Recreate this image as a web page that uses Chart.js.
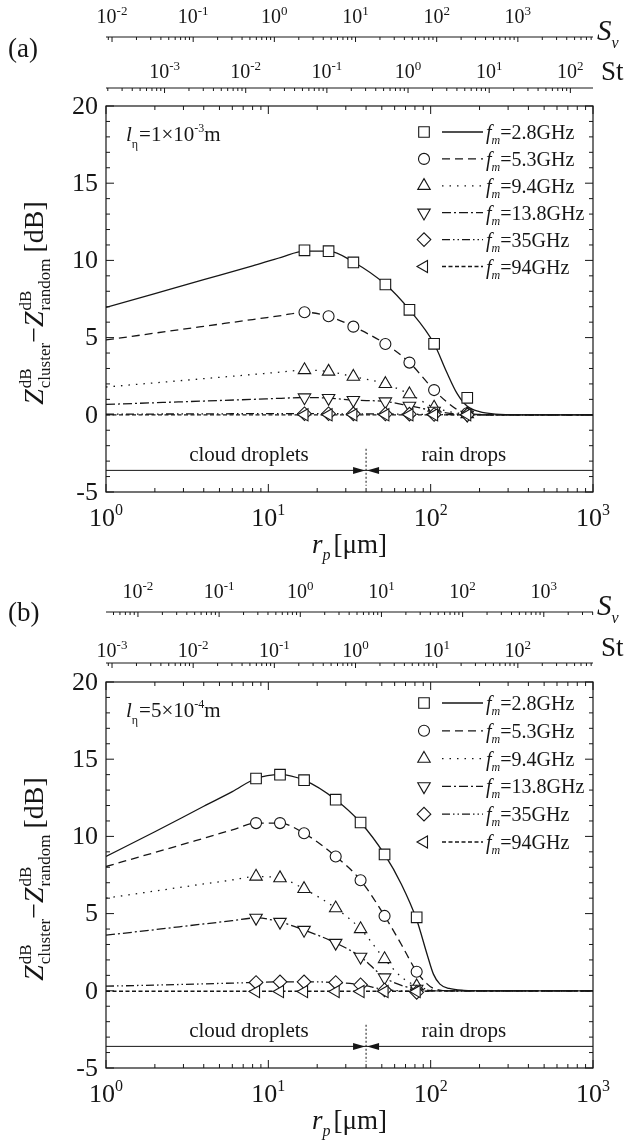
<!DOCTYPE html>
<html>
<head>
<meta charset="utf-8">
<title>Z cluster - Z random</title>
<script src="https://cdn.jsdelivr.net/npm/chart.js@4.4.1/dist/chart.umd.min.js"></script>
<style>
  html, body { margin: 0; padding: 0; background: #fff; }
  canvas { display: block; }
</style>
</head>
<body>
<canvas id="chartA" width="632" height="576"></canvas>
<canvas id="chartB" width="632" height="565"></canvas>
<script>
// legend frequencies
const freqLabels = ["2.8GHz", "5.3GHz", "9.4GHz", "13.8GHz", "35GHz", "94GHz"];

// ---- panel (a): l_eta = 1e-3 m ----
const rpLineA = [1, 2, 4, 8, 12, 16.7, 23.5, 33.4, 52.6, 74, 105, 125, 145, 168, 200, 250, 350, 1000];
const lineA_2p8 = [6.95, 7.85, 8.75, 9.65, 10.2, 10.6, 10.6, 9.9, 8.45, 6.8, 4.6, 2.8, 1.4, 0.55, 0.2, 0.05, 0, 0];
const lineA_5p3 = [4.85, 5.29, 5.73, 6.17, 6.43, 6.64, 6.38, 5.71, 4.59, 3.38, 1.6, 0.85, 0.35, 0.1, 0.02, 0, 0, 0];
const lineA_9p4 = [1.8, 2.07, 2.34, 2.61, 2.77, 2.9, 2.8, 2.47, 2.0, 1.34, 0.47, 0.25, 0.12, 0.05, 0.01, 0, 0, 0];
const lineA_13p8 = [0.67, 0.78, 0.89, 1.0, 1.07, 1.12, 1.08, 0.95, 0.86, 0.58, 0.26, 0.12, 0.05, 0.01, 0, 0, 0, 0];
const lineA_35 = [0.05, 0.05, 0.06, 0.07, 0.07, 0.07, 0.07, 0.06, 0.05, 0.04, 0.02, 0.01, 0, 0, 0, 0, 0, 0];
const lineA_94 = [0, 0, 0, 0, 0, 0, 0, 0, 0, 0, 0, 0, 0, 0, 0, 0, 0, 0];

const rpMarkA = [16.7, 23.5, 33.4, 52.6, 74, 105, 168];
const markA_2p8 = [10.65, 10.6, 9.87, 8.44, 6.8, 4.6, 1.1];
const markA_5p3 = [6.64, 6.38, 5.71, 4.59, 3.38, 1.6, 0.1];
const markA_9p4 = [2.9, 2.8, 2.47, 2.0, 1.34, 0.47, 0.05];
const markA_13p8 = [1.12, 1.08, 0.95, 0.86, 0.58, 0.26, 0.0];
const markA_35 = [0.07, 0.07, 0.06, 0.05, 0.04, 0.02, 0.0];
const markA_94 = [0, 0, 0, 0, 0, 0, 0];

// ---- panel (b): l_eta = 5e-4 m ----
const rpLineB = [1, 2, 4, 6, 8.4, 11.8, 16.6, 26, 37, 52, 66, 82, 95, 104, 114, 130, 160, 220, 1000];
const lineB_2p8 = [8.7, 10.3, 11.95, 12.9, 13.75, 14.0, 13.64, 12.38, 10.9, 8.83, 6.9, 4.6, 2.37, 1.08, 0.43, 0.15, 0.03, 0, 0];
const lineB_5p3 = [8.05, 8.96, 9.88, 10.42, 10.86, 10.86, 10.2, 8.7, 7.16, 4.85, 3.0, 1.23, 0.45, 0.15, 0.05, 0, 0, 0, 0];
const lineB_9p4 = [6.0, 6.46, 6.92, 7.18, 7.4, 7.3, 6.6, 5.35, 4.0, 2.06, 0.9, 0.3, 0.1, 0.03, 0, 0, 0, 0, 0];
const lineB_13p8 = [3.6, 3.96, 4.33, 4.54, 4.72, 4.46, 3.94, 3.1, 2.2, 0.86, 0.35, 0.13, 0.04, 0, 0, 0, 0, 0, 0];
const lineB_35 = [0.3, 0.37, 0.45, 0.5, 0.54, 0.58, 0.58, 0.54, 0.39, 0.08, 0.0, -0.05, -0.03, 0, 0, 0, 0, 0, 0];
const lineB_94 = [-0.03, -0.03, -0.03, -0.03, -0.03, -0.03, -0.03, -0.03, -0.03, -0.03, -0.03, -0.03, -0.02, 0, 0, 0, 0, 0, 0];

const rpMarkB = [8.4, 11.8, 16.6, 26, 37, 52, 82];
const markB_2p8 = [13.75, 14.0, 13.64, 12.38, 10.9, 8.83, 4.76];
const markB_5p3 = [10.86, 10.86, 10.2, 8.7, 7.16, 4.85, 1.23];
const markB_9p4 = [7.4, 7.3, 6.6, 5.35, 4.0, 2.06, 0.3];
const markB_13p8 = [4.72, 4.46, 3.94, 3.1, 2.2, 0.86, 0.13];
const markB_35 = [0.54, 0.58, 0.58, 0.54, 0.39, 0.05, -0.1];
const markB_94 = [-0.05, -0.05, -0.05, -0.05, -0.05, -0.05, -0.05];

// axis ranges and tick labels
const rpRange = [1, 1000];
const zRange = [-5, 20];
const zLabels = [-5, 0, 5, 10, 15, 20];
const svRangeA = [0.00843, 8430];
const stRangeA = [0.00019, 190];
const svRangeB = [0.00404, 4040];
const stRangeB = [0.000843, 843];

// droplet / raindrop boundary
const splitRadius = 40;
const arrowLevel = -3.6;
const dividerSpan = [-2.2, -4.6];
const cloudLabelAt = 7.6;
const rainLabelAt = 160;
const classLabelLevel = -3.0;

const FONT = '"Liberation Serif", "Times New Roman", serif';
const INK = '#161616';

const seriesStyle = [
  { dash: [], point: 'rect', rot: 0, r: 7.5 },
  { dash: [8, 5], point: 'circle', rot: 0, r: 5.5 },
  { dash: [1.5, 6], point: 'triangle', rot: 0, r: 7.2 },
  { dash: [9, 3, 2, 3], point: 'triangle', rot: 180, r: 7.2 },
  { dash: [8, 3, 1.5, 3, 1.5, 3], point: 'rectRot', rot: 0, r: 6.8 },
  { dash: [4, 2.5], point: 'triangle', rot: 270, r: 7 }
];

function font(size, italic) {
  return (italic ? 'italic ' : '') + size + 'px ' + FONT;
}

// text made of runs (italic, sub/superscripts, stacked sup+sub)
function runsWidth(ctx, runs) {
  let w = 0;
  for (const r of runs) {
    ctx.font = font(r.size, r.italic);
    if (r.stack) {
      w += Math.max(ctx.measureText(r.stack[0]).width, ctx.measureText(r.stack[1]).width);
    } else {
      w += ctx.measureText(r.t).width;
    }
    w += r.gap || 0;
  }
  return w;
}

function drawRuns(ctx, runs, x, y, align) {
  const w = runsWidth(ctx, runs);
  let cx = align === 'center' ? x - w / 2 : (align === 'right' ? x - w : x);
  ctx.textAlign = 'left';
  ctx.textBaseline = 'alphabetic';
  for (const r of runs) {
    ctx.font = font(r.size, r.italic);
    if (r.stack) {
      ctx.fillText(r.stack[0], cx, y + r.up);
      ctx.fillText(r.stack[1], cx, y + r.down);
      cx += Math.max(ctx.measureText(r.stack[0]).width, ctx.measureText(r.stack[1]).width);
    } else {
      ctx.fillText(r.t, cx, y + (r.dy || 0));
      cx += ctx.measureText(r.t).width;
    }
    cx += r.gap || 0;
  }
}

function pow10(e, size, supSize, rise) {
  return [{ t: '10', size: size }, { t: String(e), size: supSize, dy: -rise }];
}

function logTicks(min, max) {
  const out = [];
  for (let e = Math.floor(Math.log10(min)); e <= Math.ceil(Math.log10(max)); e++) {
    for (let m = 1; m < 10; m++) {
      const v = m * Math.pow(10, e);
      if (v >= min * 0.9999 && v <= max * 1.0001) out.push({ v: v, e: e, major: m === 1 });
    }
  }
  return out;
}

function seg(ctx, x1, y1, x2, y2) {
  ctx.beginPath();
  ctx.moveTo(x1, y1);
  ctx.lineTo(x2, y2);
  ctx.stroke();
}

function buildDatasets(rpLine, lines, rpMark, marks) {
  const ds = [];
  marks.forEach((vals, i) => {
    const s = seriesStyle[i];
    ds.push({
      data: rpMark.map((x, k) => ({ x: x, y: vals[k] })),
      showLine: false,
      pointStyle: s.point,
      pointRotation: s.rot,
      pointRadius: s.r,
      pointBorderColor: INK,
      pointBackgroundColor: '#fff',
      pointBorderWidth: 1.1,
      // later frequencies sit on top of earlier ones
      order: 1 + (5 - i) * 0.1
    });
  });
  lines.forEach((vals, i) => {
    ds.push({
      data: rpLine.map((x, k) => ({ x: x, y: vals[k] })),
      borderColor: INK,
      borderWidth: 1.3,
      borderDash: seriesStyle[i].dash,
      pointRadius: 0,
      cubicInterpolationMode: 'monotone',
      fill: false,
      order: 2
    });
  });
  return ds;
}

const frame = {
  id: 'frame',
  beforeDatasetsDraw(chart) {
    const { ctx, chartArea: a, scales: { x, y } } = chart;
    const yArrow = y.getPixelForValue(arrowLevel);
    const xs = x.getPixelForValue(splitRadius);
    ctx.save();
    ctx.strokeStyle = INK;
    ctx.fillStyle = INK;
    ctx.lineWidth = 1;
    seg(ctx, a.left, yArrow, a.right, yArrow);
    ctx.beginPath();
    ctx.moveTo(xs - 1, yArrow);
    ctx.lineTo(xs - 13, yArrow - 3.5);
    ctx.lineTo(xs - 13, yArrow + 3.5);
    ctx.closePath();
    ctx.fill();
    ctx.beginPath();
    ctx.moveTo(xs + 1, yArrow);
    ctx.lineTo(xs + 13, yArrow - 3.5);
    ctx.lineTo(xs + 13, yArrow + 3.5);
    ctx.closePath();
    ctx.fill();
    ctx.setLineDash([2, 2]);
    seg(ctx, xs, y.getPixelForValue(dividerSpan[0]), xs, y.getPixelForValue(dividerSpan[1]));
    ctx.setLineDash([]);
    ctx.font = font(21, false);
    ctx.textAlign = 'center';
    ctx.textBaseline = 'alphabetic';
    ctx.fillText('cloud droplets', x.getPixelForValue(cloudLabelAt), y.getPixelForValue(classLabelLevel));
    ctx.fillText('rain drops', x.getPixelForValue(rainLabelAt), y.getPixelForValue(classLabelLevel));
    ctx.restore();
  },
  afterDraw(chart, args, o) {
    const { ctx, chartArea: a, scales: { x, y, sv, st } } = chart;
    ctx.save();
    ctx.strokeStyle = INK;
    ctx.fillStyle = INK;
    ctx.lineWidth = 1.2;
    ctx.strokeRect(a.left, a.top, a.right - a.left, a.bottom - a.top);

    // r_p ticks, bottom and top, pointing in
    ctx.lineWidth = 1;
    for (const t of logTicks(rpRange[0], rpRange[1])) {
      const px = x.getPixelForValue(t.v);
      const len = t.major ? 8 : 4;
      seg(ctx, px, a.bottom, px, a.bottom - len);
      seg(ctx, px, a.top, px, a.top + len);
      if (t.major) drawRuns(ctx, pow10(t.e, 26, 16, 11), px, a.bottom + 34, 'center');
    }
    // Z ticks, left and right
    for (let v = zRange[0]; v <= zRange[1]; v++) {
      const py = y.getPixelForValue(v);
      const len = v % 5 === 0 ? 8 : 4;
      seg(ctx, a.left, py, a.left + len, py);
      seg(ctx, a.right, py, a.right - len, py);
    }
    ctx.font = font(26, false);
    ctx.textAlign = 'right';
    ctx.textBaseline = 'middle';
    for (const v of zLabels) ctx.fillText(String(v), a.left - 8, y.getPixelForValue(v) + 1);

    // S_v and St axes above the plot
    [[sv, o.svLine, o.svBase], [st, o.stLine, o.stBase]].forEach(([s, ly, lb]) => {
      seg(ctx, a.left, ly, a.right, ly);
      for (const t of logTicks(s.min, s.max)) {
        const px = s.getPixelForValue(t.v);
        seg(ctx, px, ly, px, ly + (t.major ? 5 : 3));
        if (t.major) drawRuns(ctx, pow10(t.e, 20, 13, 8), px, lb, 'center');
      }
    });
    drawRuns(ctx, [{ t: 'S', size: 29, italic: true }, { t: 'v', size: 16, italic: true, dy: 8 }], a.right + 4, o.svLine + 3, 'left');
    ctx.font = font(27, false);
    ctx.textAlign = 'left';
    ctx.textBaseline = 'alphabetic';
    ctx.fillText('St', a.right + 8, o.stTitle);

    // panel tag
    ctx.font = font(27, false);
    ctx.fillText(o.tag, 8, o.tagBase);

    // axis titles
    drawRuns(ctx, [{ t: 'r', size: 27, italic: true }, { t: 'p', size: 16, italic: true, dy: 7, gap: 3 }, { t: '[\u03bcm]', size: 27 }],
      (a.left + a.right) / 2, a.bottom + 61, 'center');
    ctx.save();
    ctx.translate(34, (a.top + a.bottom) / 2 + 4);
    ctx.rotate(-Math.PI / 2);
    drawRuns(ctx, [
      { t: 'Z', size: 28, italic: true, gap: 1 },
      { stack: ['dB', 'cluster'], size: 17, up: -12, down: 7 },
      { t: '\u2212', size: 28 },
      { t: 'Z', size: 28, italic: true, gap: 1 },
      { stack: ['dB', 'random'], size: 17, up: -12, down: 7, gap: 6 },
      { t: '[dB]', size: 28 }
    ], 0, 9, 'center');
    ctx.restore();

    // l_eta note
    drawRuns(ctx, [
      { t: 'l', size: 21, italic: true },
      { t: '\u03b7', size: 12, dy: 7, gap: 1 },
      { t: '=' + o.lMant + '\u00d710', size: 21 },
      { t: o.lExp, size: 12, dy: -9 },
      { t: 'm', size: 21 }
    ], a.left + 20, a.top + 35, 'left');

    // legend
    const draw = Chart.helpers && Chart.helpers.drawPoint;
    seriesStyle.forEach((s, i) => {
      const ry = o.legendTop + i * o.legendStep;
      ctx.lineWidth = 1.1;
      ctx.fillStyle = '#fff';
      if (draw) draw(ctx, { pointStyle: s.point, rotation: s.rot, radius: s.r, borderWidth: 1.1 }, 424, ry);
      ctx.fillStyle = INK;
      ctx.lineWidth = 1.3;
      ctx.setLineDash(s.dash);
      seg(ctx, 442, ry, 483, ry);
      ctx.setLineDash([]);
      drawRuns(ctx, [
        { t: 'f', size: 20, italic: true },
        { t: 'm', size: 12, italic: true, dy: 5 },
        { t: '=' + freqLabels[i], size: 20 }
      ], 486, ry + 7, 'left');
    });
    ctx.restore();
  }
};

function makePanel(id, datasets, svRange, stRange, padBottom, opts) {
  return new Chart(document.getElementById(id), {
    type: 'line',
    data: { datasets: datasets },
    options: {
      responsive: false,
      animation: false,
      devicePixelRatio: 1,
      events: [],
      layout: { padding: { left: 106, right: 39, top: 106, bottom: padBottom } },
      plugins: { legend: { display: false }, tooltip: { enabled: false }, frame: opts },
      scales: {
        x: { type: 'logarithmic', min: rpRange[0], max: rpRange[1], display: false },
        y: { type: 'linear', min: zRange[0], max: zRange[1], display: false },
        sv: { type: 'logarithmic', axis: 'x', position: 'top', min: svRange[0], max: svRange[1], display: false },
        st: { type: 'logarithmic', axis: 'x', position: 'top', min: stRange[0], max: stRange[1], display: false }
      }
    },
    plugins: [frame]
  });
}

makePanel('chartA',
  buildDatasets(rpLineA, [lineA_2p8, lineA_5p3, lineA_9p4, lineA_13p8, lineA_35, lineA_94],
    rpMarkA, [markA_2p8, markA_5p3, markA_9p4, markA_13p8, markA_35, markA_94]),
  svRangeA, stRangeA, 84,
  { tag: '(a)', tagBase: 57, lMant: '1', lExp: '-3', legendTop: 132, legendStep: 26.9,
    svLine: 37, svBase: 23, stLine: 88, stBase: 78, stTitle: 80 });

makePanel('chartB',
  buildDatasets(rpLineB, [lineB_2p8, lineB_5p3, lineB_9p4, lineB_13p8, lineB_35, lineB_94],
    rpMarkB, [markB_2p8, markB_5p3, markB_9p4, markB_13p8, markB_35, markB_94]),
  svRangeB, stRangeB, 73,
  { tag: '(b)', tagBase: 45, lMant: '5', lExp: '-4', legendTop: 127, legendStep: 27.8,
    svLine: 36, svBase: 22, stLine: 87, stBase: 81, stTitle: 80 });
</script>
</body>
</html>
